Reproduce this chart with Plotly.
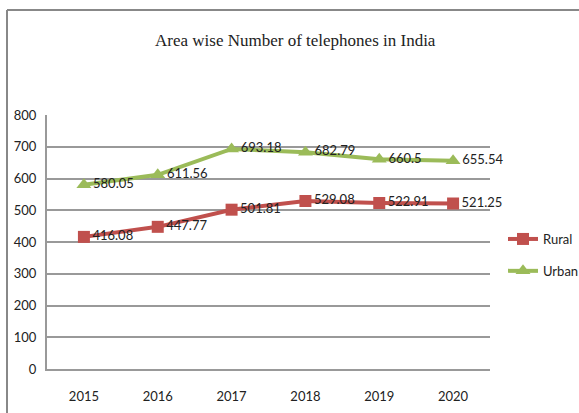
import plotly.graph_objects as go

years = ["2015", "2016", "2017", "2018", "2019", "2020"]
rural = [416.08, 447.77, 501.81, 529.08, 522.91, 521.25]
urban = [580.05, 611.56, 693.18, 682.79, 660.5, 655.54]
y_ticks = [0, 100, 200, 300, 400, 500, 600, 700, 800]

W, H = 579, 413
px = lambda x: x / W
py = lambda y: 1 - y / H

label_font = dict(family="Lato, sans-serif", size=13, color="#222")

fig = go.Figure()
fig.add_trace(go.Scatter(
    x=years, y=rural, name="Rural", legendgroup="r",
    mode="lines+markers+text", cliponaxis=False,
    line=dict(color="#C0504D", width=4),
    marker=dict(symbol="square", size=12, color="#C0504D"),
    text=[str(v) for v in rural], textposition="middle right",
    textfont=label_font,
))
fig.add_trace(go.Scatter(
    x=years, y=urban, name="Urban", legendgroup="u",
    mode="lines+markers+text", cliponaxis=False,
    line=dict(color="#9BBB59", width=4),
    marker=dict(symbol="triangle-up", size=13, color="#9BBB59"),
    text=[str(v) for v in urban], textposition="middle right",
    textfont=label_font,
))

fig.update_layout(
    width=W, height=H,
    margin=dict(l=0, r=0, t=0, b=0, autoexpand=False),
    paper_bgcolor="white", plot_bgcolor="white",
    font=label_font,
    showlegend=True,
    legend=dict(x=px(503), y=py(255), xanchor="left", yanchor="middle",
                font=label_font, tracegroupgap=12, bgcolor="rgba(0,0,0,0)",
                itemwidth=30),
    xaxis=dict(domain=[px(47), px(490)], type="category", range=[-0.5, 5.5],
               automargin=False,
               showgrid=False, showline=True, linecolor="#999", linewidth=2,
               ticks="", ticklabelstandoff=14, tickfont=label_font),
    yaxis=dict(domain=[py(369), py(115)], range=[0, 800], tickvals=y_ticks,
               automargin=False,
               showgrid=True, gridcolor="#999", gridwidth=1.5,
               showline=True, linecolor="#999", linewidth=2,
               zeroline=False, ticks="", ticklabelstandoff=6, tickfont=label_font),
    annotations=[dict(
        text="Area wise Number of telephones in India",
        x=px(295), y=py(40), xref="paper", yref="paper",
        xanchor="center", yanchor="middle", showarrow=False,
        font=dict(family="Liberation Serif, Times New Roman, serif", size=17, color="#222"),
    )],
    shapes=[
        dict(type="line", xref="paper", yref="paper", x0=px(7), x1=px(7), y0=py(10), y1=py(413),
             line=dict(color="#888", width=2)),
        dict(type="line", xref="paper", yref="paper", x0=px(7), x1=px(579), y0=py(10), y1=py(10),
             line=dict(color="#888", width=2)),
    ],
)

fig.write_html(
    "out.html",
    config={"displayModeBar": False},
    post_script="document.body.style.margin='0';document.body.style.padding='0';document.body.style.overflow='hidden';",
)
